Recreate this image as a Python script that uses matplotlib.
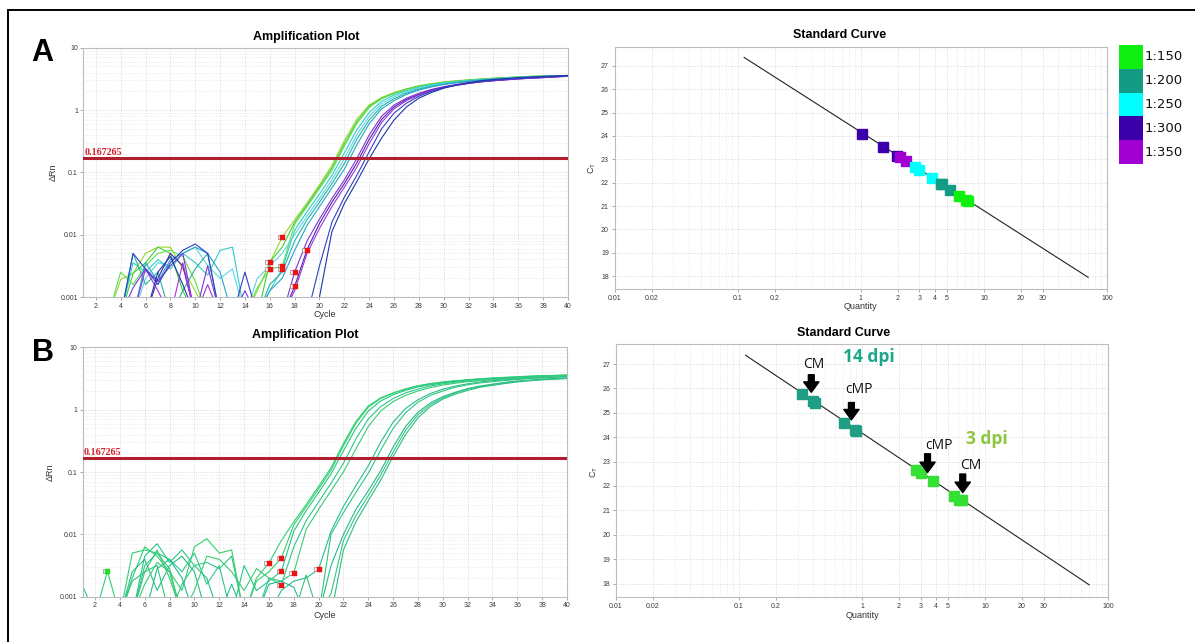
import numpy as np
import matplotlib
matplotlib.use("Agg")
import matplotlib.pyplot as plt
from matplotlib.patches import Rectangle
from matplotlib.ticker import LogLocator, NullFormatter, FixedLocator
from matplotlib.transforms import offset_copy

W, H = 1195, 642

cycles = np.arange(1, 41)
threshold = 0.167265

# ---- panel A amplification curves, log10(dRn) at cycles 1..40
a_colors = ['#98d82c', '#3fcf3f', '#5ee04a', '#30cccc', '#5ad4e6', '#27b39a',
            '#23a5cf', '#8233d4', '#4a22b0', '#a232d8', '#2f42c4', '#1f35a8']
a_curves = [
    [-3.3, -3.3, -3.3, -2.72, -2.62, -2.3, -2.2, -2.2, -2.55, -2.9,
     -3.3, -3.3, -3.3, -3.3, -2.9, -2.45, -2.04, -1.76, -1.49, -1.2,
     -0.89, -0.49, -0.15, 0.08, 0.2, 0.28, 0.34, 0.39, 0.42, 0.45,
     0.47, 0.485, 0.5, 0.51, 0.52, 0.53, 0.54, 0.545, 0.55, 0.556],
    [-3.3, -3.3, -3.3, -3.3, -2.62, -2.45, -2.2, -2.3, -2.9, -3.3,
     -3.3, -3.3, -3.3, -3.3, -3.3, -2.44, -2.2, -1.8, -1.52, -1.23,
     -0.93, -0.54, -0.19, 0.06, 0.19, 0.27, 0.335, 0.385, 0.42, 0.445,
     0.465, 0.48, 0.495, 0.51, 0.52, 0.53, 0.54, 0.545, 0.55, 0.555],
    [-3.3, -3.3, -3.3, -2.6, -2.8, -2.5, -2.3, -2.25, -2.35, -2.75,
     -3.3, -3.3, -3.3, -3.3, -2.85, -2.55, -2.51, -1.83, -1.55, -1.26,
     -0.97, -0.58, -0.22, 0.04, 0.18, 0.265, 0.33, 0.38, 0.415, 0.44,
     0.46, 0.48, 0.495, 0.505, 0.515, 0.525, 0.535, 0.545, 0.55, 0.555],
    [-3.3, -3.3, -3.3, -3.3, -2.45, -2.6, -2.4, -2.55, -2.3, -2.45,
     -2.65, -2.25, -2.2, -3.3, -3.3, -2.9, -2.55, -1.93, -1.63, -1.35,
     -1.05, -0.69, -0.32, -0.04, 0.14, 0.24, 0.31, 0.365, 0.405, 0.435,
     0.455, 0.475, 0.49, 0.5, 0.515, 0.525, 0.535, 0.54, 0.548, 0.555],
    [-3.3, -3.3, -3.3, -3.3, -3.3, -2.7, -2.45, -2.5, -2.3, -2.2,
     -2.5, -2.7, -2.55, -3.3, -2.7, -2.5, -2.3, -2.0, -1.7, -1.42,
     -1.12, -0.78, -0.4, -0.1, 0.1, 0.21, 0.29, 0.35, 0.395, 0.425,
     0.45, 0.47, 0.485, 0.5, 0.51, 0.52, 0.53, 0.54, 0.547, 0.553],
    [-3.3, -3.3, -3.3, -3.3, -2.3, -2.8, -2.6, -3.3, -2.9, -2.55,
     -2.3, -3.3, -3.3, -3.3, -3.3, -2.8, -2.6, -2.1, -1.76, -1.48,
     -1.18, -0.86, -0.47, -0.16, 0.06, 0.18, 0.27, 0.335, 0.38, 0.415,
     0.44, 0.465, 0.48, 0.495, 0.505, 0.515, 0.525, 0.535, 0.545, 0.55],
    [-3.3, -3.3, -3.3, -3.3, -3.3, -2.45, -2.75, -2.4, -2.3, -2.2,
     -2.3, -2.6, -3.3, -3.3, -3.3, -2.9, -2.7, -2.25, -1.85, -1.55,
     -1.25, -0.95, -0.56, -0.22, 0.02, 0.15, 0.25, 0.32, 0.37, 0.41,
     0.435, 0.46, 0.475, 0.49, 0.5, 0.515, 0.525, 0.535, 0.545, 0.55],
    [-3.3, -3.3, -3.3, -3.3, -2.85, -2.55, -2.75, -2.5, -2.3, -3.3,
     -2.5, -3.3, -3.3, -2.9, -3.3, -3.3, -3.3, -2.6, -2.1, -1.75,
     -1.42, -1.12, -0.78, -0.4, -0.1, 0.08, 0.19, 0.27, 0.33, 0.375,
     0.41, 0.44, 0.46, 0.475, 0.49, 0.5, 0.515, 0.525, 0.535, 0.545],
    [-3.3, -3.3, -3.3, -3.3, -3.3, -3.3, -2.7, -2.3, -2.5, -3.3,
     -3.3, -3.3, -3.3, -3.3, -3.3, -3.3, -3.3, -2.83, -2.24, -1.82,
     -1.48, -1.18, -0.85, -0.47, -0.15, 0.05, 0.17, 0.25, 0.32, 0.365,
     0.4, 0.43, 0.455, 0.47, 0.485, 0.5, 0.51, 0.52, 0.532, 0.543],
    [-3.3, -3.3, -3.3, -3.3, -3.3, -2.55, -2.9, -3.3, -2.45, -3.3,
     -2.8, -3.3, -3.3, -3.3, -3.3, -3.3, -3.3, -2.9, -2.3, -1.9,
     -1.55, -1.24, -0.92, -0.54, -0.2, 0.02, 0.15, 0.24, 0.31, 0.36,
     0.395, 0.425, 0.45, 0.47, 0.485, 0.5, 0.51, 0.52, 0.53, 0.54],
    [-3.3, -3.3, -3.3, -3.3, -2.3, -2.55, -2.8, -2.45, -2.25, -2.15,
     -2.3, -3.3, -3.3, -2.6, -3.3, -3.3, -3.3, -3.3, -3.3, -2.5,
     -1.8, -1.4, -1.05, -0.67, -0.3, -0.05, 0.11, 0.22, 0.3, 0.36,
     0.4, 0.43, 0.455, 0.475, 0.49, 0.505, 0.515, 0.525, 0.535, 0.545],
    [-3.3, -3.3, -3.3, -3.3, -3.3, -3.3, -2.6, -2.35, -2.8, -3.3,
     -3.3, -3.3, -3.3, -3.3, -3.3, -3.3, -3.3, -3.3, -3.3, -3.0,
     -1.95, -1.5, -1.15, -0.78, -0.45, -0.16, 0.05, 0.19, 0.28, 0.35,
     0.4, 0.44, 0.47, 0.49, 0.505, 0.52, 0.53, 0.54, 0.548, 0.553],
]
a_mark_cycle = [16, 16, 17, 17, 17, 18, 18, 19]
a_mark_drn = [0.0036, 0.0028, 0.0092, 0.0031, 0.0028, 0.0025, 0.0015, 0.0057]
a_mark_color = ['#ee1111'] * 8

# ---- panel B amplification curves
b_colors = ['#2fcf78', '#33d06c', '#27c485', '#2cc98b', '#3acb72',
            '#26bd8c', '#2fc77e', '#22b98f', '#35c67a', '#29bf86']
b_curves = [
    [-2.82, -3.3, -2.59, -3.3, -2.3, -2.25, -2.3, -2.55, -3.3, -3.3,
     -3.3, -3.3, -3.3, -3.3, -2.7, -2.46, -2.1, -1.8, -1.52, -1.23,
     -0.93, -0.54, -0.19, 0.06, 0.19, 0.27, 0.335, 0.385, 0.42, 0.445,
     0.465, 0.48, 0.495, 0.51, 0.52, 0.53, 0.54, 0.545, 0.55, 0.555],
    [-3.3, -3.3, -3.3, -3.3, -2.7, -2.2, -2.35, -2.6, -2.9, -2.2,
     -2.07, -2.3, -2.25, -3.3, -2.75, -2.6, -2.38, -1.85, -1.56, -1.27,
     -0.97, -0.58, -0.22, 0.04, 0.18, 0.265, 0.33, 0.38, 0.415, 0.44,
     0.46, 0.48, 0.495, 0.505, 0.515, 0.525, 0.535, 0.545, 0.55, 0.555],
    [-3.3, -3.3, -3.3, -3.3, -3.3, -2.35, -2.15, -2.45, -2.25, -2.5,
     -2.7, -3.3, -3.3, -2.5, -2.9, -2.75, -2.59, -1.95, -1.62, -1.33,
     -1.03, -0.66, -0.3, -0.02, 0.14, 0.24, 0.31, 0.365, 0.4, 0.43,
     0.455, 0.475, 0.49, 0.5, 0.51, 0.52, 0.53, 0.54, 0.548, 0.553],
    [-3.3, -3.3, -3.3, -3.3, -3.3, -2.5, -2.3, -2.4, -2.6, -2.3,
     -2.8, -2.5, -3.3, -3.3, -3.3, -2.7, -2.81, -2.2, -1.78, -1.48,
     -1.18, -0.86, -0.47, -0.15, 0.05, 0.18, 0.27, 0.33, 0.38, 0.415,
     0.44, 0.46, 0.475, 0.49, 0.5, 0.515, 0.525, 0.535, 0.545, 0.55],
    [-3.3, -3.3, -3.3, -3.3, -3.3, -2.8, -2.45, -2.6, -3.3, -2.9,
     -2.35, -2.4, -2.6, -2.9, -2.55, -2.7, -2.75, -2.62, -1.92, -1.6,
     -1.3, -1.0, -0.63, -0.27, -0.02, 0.13, 0.23, 0.3, 0.355, 0.395,
     0.425, 0.45, 0.465, 0.48, 0.495, 0.505, 0.52, 0.53, 0.54, 0.548],
    [-3.3, -3.3, -3.3, -3.3, -2.6, -2.4, -2.9, -2.5, -2.35, -2.6,
     -3.3, -3.3, -2.8, -3.3, -3.3, -3.3, -2.9, -2.75, -2.7, -2.56,
     -1.95, -1.55, -1.22, -0.9, -0.52, -0.2, 0.02, 0.16, 0.26, 0.33,
     0.38, 0.415, 0.445, 0.465, 0.48, 0.495, 0.505, 0.515, 0.525, 0.535],
    [-3.3, -3.3, -3.3, -3.3, -3.3, -2.6, -2.5, -3.3, -2.8, -2.5,
     -2.45, -2.55, -2.35, -3.3, -3.3, -3.3, -3.3, -3.3, -3.3, -3.3,
     -2.0, -1.65, -1.33, -1.02, -0.65, -0.3, -0.05, 0.12, 0.23, 0.3,
     0.36, 0.4, 0.43, 0.45, 0.47, 0.485, 0.5, 0.51, 0.52, 0.53],
    [-3.3, -3.3, -3.3, -3.3, -3.3, -3.3, -2.55, -2.4, -2.7, -3.3,
     -3.3, -3.3, -3.3, -3.3, -3.3, -2.8, -2.75, -2.85, -3.3, -3.3,
     -2.5, -2.0, -1.6, -1.3, -0.98, -0.6, -0.27, -0.04, 0.11, 0.21,
     0.28, 0.34, 0.38, 0.41, 0.44, 0.46, 0.475, 0.49, 0.5, 0.51],
    [-3.3, -3.3, -3.3, -3.3, -2.75, -2.6, -2.25, -2.7, -3.3, -3.3,
     -3.3, -3.3, -3.3, -3.3, -3.3, -3.3, -3.3, -3.3, -2.65, -3.3,
     -2.95, -2.1, -1.7, -1.38, -1.05, -0.68, -0.33, -0.08, 0.08, 0.19,
     0.27, 0.33, 0.37, 0.405, 0.43, 0.455, 0.47, 0.485, 0.495, 0.505],
    [-3.3, -3.3, -3.3, -3.3, -3.3, -3.3, -3.3, -3.3, -3.3, -3.3,
     -3.3, -3.3, -3.3, -3.3, -3.3, -3.3, -3.3, -3.3, -3.3, -3.3,
     -3.3, -2.25, -1.8, -1.46, -1.13, -0.75, -0.4, -0.13, 0.05, 0.17,
     0.25, 0.31, 0.36, 0.39, 0.42, 0.445, 0.465, 0.48, 0.49, 0.5],
]
b_mark_cycle = [3, 16, 17, 17, 17, 18, 20]
b_mark_drn = [0.0026, 0.0035, 0.0042, 0.0026, 0.00155, 0.0024, 0.00277]
b_mark_color = ['#22dd22'] + ['#ee1111'] * 6

# ---- standard curves
fit_q = [0.113, 70.3]
fit_ct = [27.36, 17.95]

dil_labels = ['1:150', '1:200', '1:250', '1:300', '1:350']
dil_colors = ['#10f010', '#149b84', '#00ffff', '#3c00aa', '#a000d2']
q_300 = [1.03, 1.51, 1.97]
ct_300 = [24.09, 23.52, 23.15]
q_350 = [2.07, 2.32]
ct_350 = [23.1, 22.91]
q_250 = [2.75, 3.0, 3.8]
ct_250 = [22.68, 22.54, 22.2]
q_200 = [4.48, 4.57, 5.3]
ct_200 = [21.96, 21.93, 21.69]
q_150 = [6.3, 7.1, 7.5]
ct_150 = [21.42, 21.27, 21.2]

q_14dpi = [0.324, 0.40, 0.418, 0.72, 0.88, 0.90]
ct_14dpi = [25.78, 25.47, 25.4, 24.59, 24.3, 24.26]
q_3dpi = [2.73, 3.03, 3.8, 5.6, 6.2, 6.5]
ct_3dpi = [22.66, 22.52, 22.19, 21.59, 21.42, 21.41]

arrow_text = ['CM', 'cMP', 'cMP', 'CM']
arrow_q = [0.387, 0.82, 3.41, 6.59]
arrow_tail = [26.56, 25.42, 23.32, 22.49]
arrow_tip = [25.84, 24.71, 22.55, 21.73]
text_q = [0.407, 0.944, 4.25, 7.63]
text_ct = [27.0, 25.95, 23.64, 22.82]

std_xticks = [0.01, 0.02, 0.1, 0.2, 1, 2, 3, 4, 5, 10, 20, 30, 100]
std_xlabels = ['0.01', '0.02', '0.1', '0.2', '1', '2', '3', '4', '5', '10', '20', '30', '100']


def box(l, t, r, b):
    return [l / W, 1 - b / H, (r - l) / W, (b - t) / H]


def fx(x, y):
    return x / W, 1 - y / H


fig = plt.figure(figsize=(W / 100, H / 100), dpi=100)
plt.rcParams['font.family'] = ['Liberation Sans', 'DejaVu Sans']

GRID = '#d0d0d0'
GRID_MINOR = '#dfdfdf'
SPINE = '#bdbdbd'


def style(ax):
    for s in ax.spines.values():
        s.set_color(SPINE)
        s.set_linewidth(0.8)
    ax.tick_params(which='major', labelsize=5, length=2, width=0.5,
                   color='#888888', labelcolor='#3a3a3a', pad=2)
    ax.tick_params(which='minor', length=0)


def amp_plot(rect, curves, colors, mc, mv, mcol):
    ax = fig.add_axes(rect)
    ax.set_yscale('log')
    ax.set_xlim(1, 40)
    ax.set_ylim(0.001, 10)
    ax.set_xticks(range(2, 41, 2))
    ax.set_yticks([0.001, 0.01, 0.1, 1, 10])
    ax.set_yticklabels(['0.001', '0.01', '0.1', '1', '10'])
    ax.yaxis.set_minor_locator(LogLocator(subs=np.arange(2, 10)))
    ax.yaxis.set_minor_formatter(NullFormatter())
    ax.grid(which='major', ls=':', color=GRID, lw=0.6)
    ax.grid(which='minor', axis='y', ls=':', color=GRID_MINOR, lw=0.5)
    style(ax)
    for vals, col in zip(curves, colors):
        ax.plot(cycles, 10 ** np.array(vals), color=col, lw=0.8)
    ax.axhline(threshold, color='#b11f2c', lw=2.2, zorder=5)
    ax.text(0.002, threshold * 1.04, '0.167265', transform=ax.get_yaxis_transform(),
            family='Liberation Serif', weight='bold', fontsize=7.2, color='#d81f2a',
            va='bottom', ha='left', zorder=6)
    left = offset_copy(ax.transData, fig=fig, x=-2.6, y=0, units='dots')
    for c, v, col in zip(mc, mv, mcol):
        ax.plot(c, v, 's', ms=3.4, mfc='white', mec='#888888', mew=0.5,
                transform=left, zorder=7)
        ax.plot(c, v, 's', ms=3.6, mfc=col, mec=col, mew=0.3, zorder=8)
    return ax


def std_plot(rect):
    ax = fig.add_axes(rect)
    ax.set_xscale('log')
    ax.set_xlim(0.01, 100)
    ax.set_ylim(17.45, 27.82)
    ax.xaxis.set_major_locator(FixedLocator(std_xticks))
    ax.set_xticklabels(std_xlabels)
    ax.xaxis.set_minor_locator(LogLocator(subs=np.arange(2, 10)))
    ax.xaxis.set_minor_formatter(NullFormatter())
    ax.set_yticks(range(18, 28))
    ax.grid(which='major', ls=':', color=GRID, lw=0.6)
    ax.grid(which='minor', axis='x', ls=':', color=GRID_MINOR, lw=0.5)
    style(ax)
    ax.plot(fit_q, fit_ct, color='#222222', lw=0.8, zorder=3)
    return ax


# panel A
ax1 = amp_plot(box(83.4, 47.7, 568, 297), a_curves, a_colors,
               a_mark_cycle, a_mark_drn, a_mark_color)
ax2 = std_plot(box(614.5, 46.7, 1107, 289))
for q, ct, col in [(q_300, ct_300, dil_colors[3]), (q_350, ct_350, dil_colors[4]),
                   (q_250, ct_250, dil_colors[2]), (q_200, ct_200, dil_colors[1]),
                   (q_150, ct_150, dil_colors[0])]:
    ax2.plot(q, ct, 's', ms=6.8, color=col, mec=col, zorder=4)

# panel B
ax3 = amp_plot(box(82.6, 347.4, 567, 596.7), b_curves, b_colors,
               b_mark_cycle, b_mark_drn, b_mark_color)
ax4 = std_plot(box(616, 344, 1108, 597))
ax4.plot(q_14dpi, ct_14dpi, 's', ms=6.8, color='#1f9e85', zorder=4)
ax4.plot(q_3dpi, ct_3dpi, 's', ms=6.8, color='#33e033', zorder=4)
for t, q, ta, tp, tq, tc in zip(arrow_text, arrow_q, arrow_tail, arrow_tip, text_q, text_ct):
    ax4.annotate('', xy=(q, tp), xytext=(q, ta),
                 arrowprops=dict(facecolor='black', edgecolor='black', width=4.2,
                                 headwidth=11, headlength=7.5, shrink=0), zorder=6)
    ax4.text(tq, tc, t, family='Open Sans', fontsize=10, ha='center', va='center',
             color='#111111', zorder=6)
ax4.text(1.13, 27.27, '14 dpi', family='Open Sans', weight='bold', fontsize=12.5,
         color='#1aa88a', ha='center', va='center')
ax4.text(10.4, 23.93, '3 dpi', family='Open Sans', weight='bold', fontsize=12.5,
         color='#8dc63f', ha='center', va='center')

# titles, axis labels, panel letters
for (x, y), t in [((306, 37), 'Amplification Plot'), ((840, 35), 'Standard Curve'),
                  ((305, 335), 'Amplification Plot'), ((844, 333), 'Standard Curve')]:
    fig.text(*fx(x, y), t, weight='bold', fontsize=9, ha='center', va='center')
for (x, y), t in [((325, 314.5), 'Cycle'), ((860, 306.5), 'Quantity'),
                  ((325, 615.5), 'Cycle'), ((862, 615), 'Quantity')]:
    fig.text(*fx(x, y), t, fontsize=6.5, ha='center', va='center', color='#333333')
for (x, y), t in [((53, 172), '\u0394Rn'), ((50, 472), '\u0394Rn'),
                  ((592, 168), r'C$_\mathregular{T}$'), ((594, 472), r'C$_\mathregular{T}$')]:
    fig.text(*fx(x, y), t, fontsize=6.5, ha='center', va='center', rotation=90,
             color='#333333')
fig.text(*fx(42.7, 53), 'A', weight='bold', fontsize=22, ha='center', va='center')
fig.text(*fx(42.9, 353), 'B', weight='bold', fontsize=22, ha='center', va='center')

# legend boxes for panel A standard curve
for i, (lab, col) in enumerate(zip(dil_labels, dil_colors)):
    top = 44.7 + i * 23.9
    fig.add_artist(Rectangle(fx(1119, top + 23.9), 24 / W, 23.9 / H,
                             transform=fig.transFigure, facecolor=col, edgecolor='none'))
    fig.text(*fx(1145, top + 12), lab, family='DejaVu Sans', fontsize=9.5,
             ha='left', va='center', color='#111111')

# outer frame
fig.add_artist(Rectangle((8 / W, -0.05), 1.0, 1 - 10 / H + 0.05, fill=False,
                         edgecolor='black', lw=1.4, transform=fig.transFigure))

fig.savefig('out.png', dpi=100)
